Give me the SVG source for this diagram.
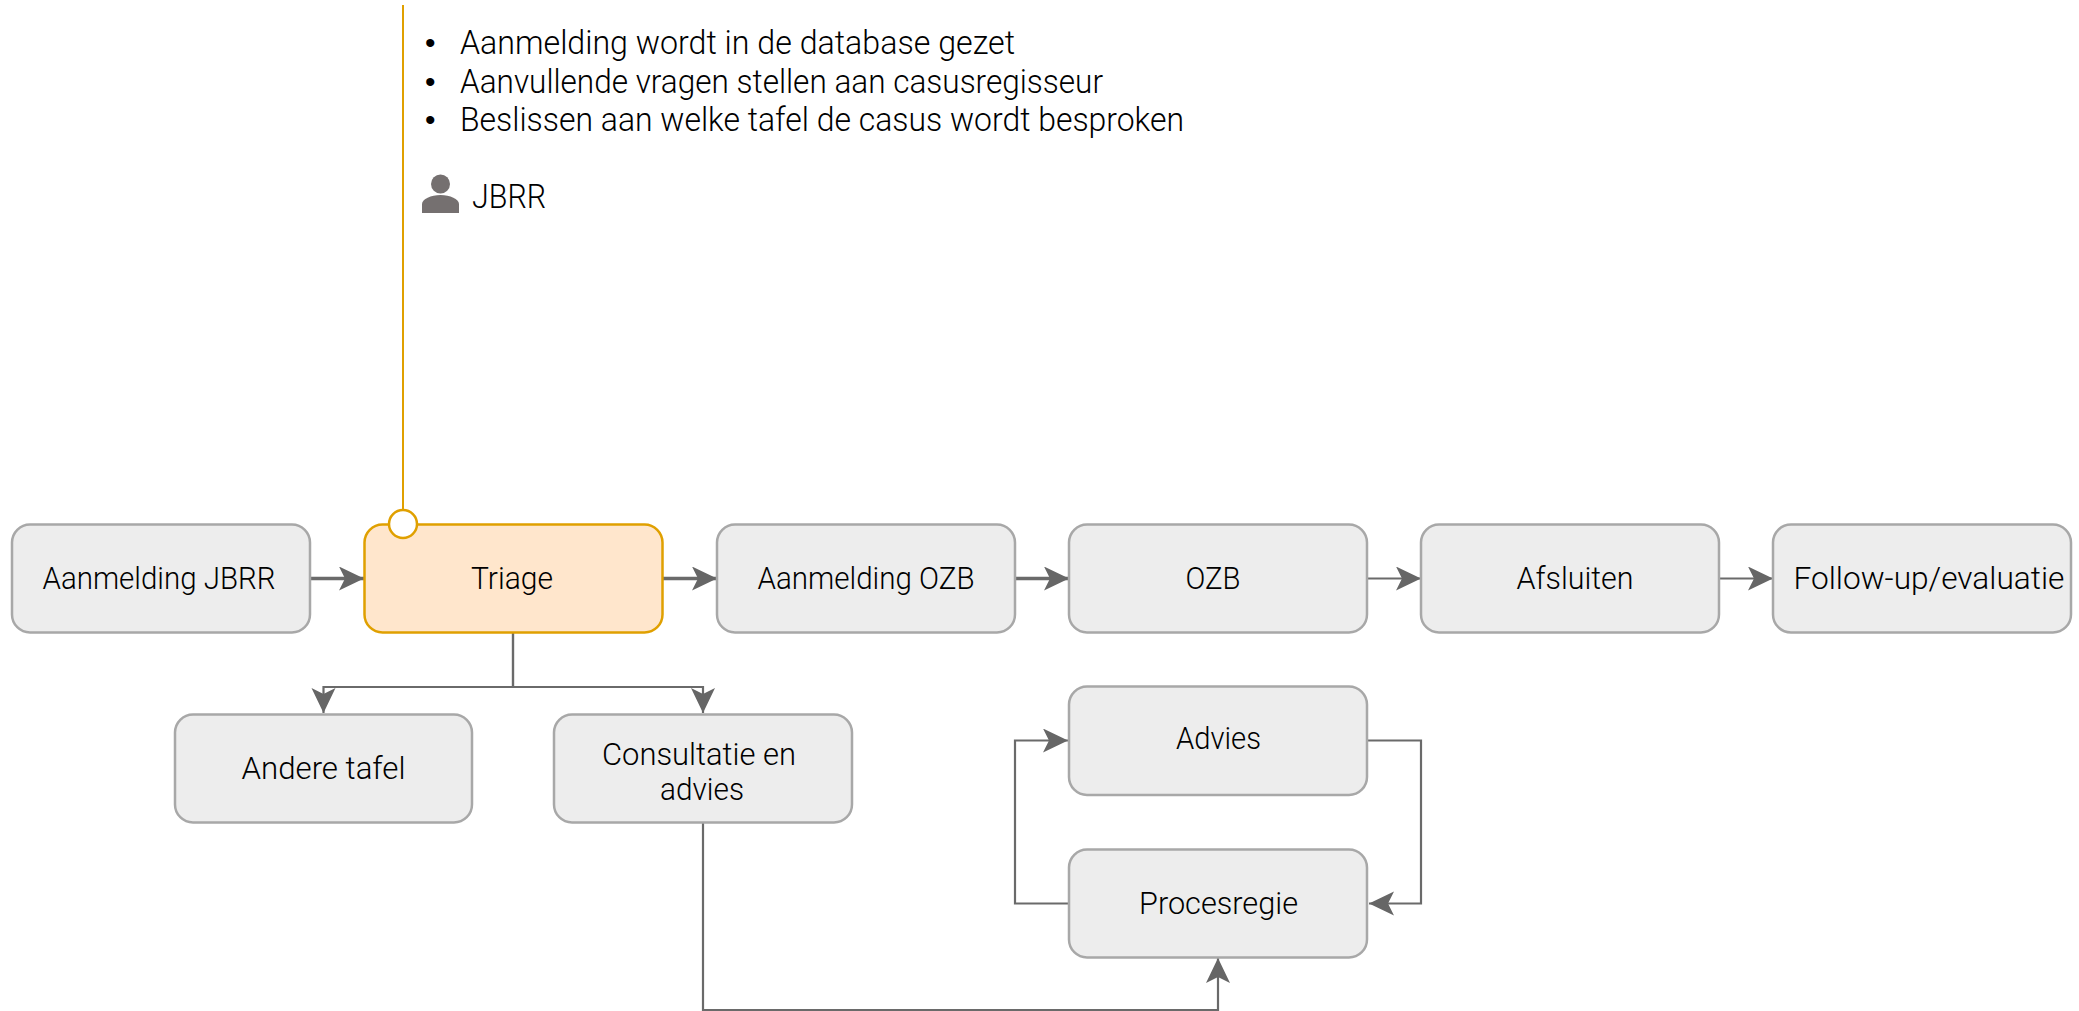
<svg xmlns="http://www.w3.org/2000/svg" width="2079" height="1011" viewBox="0 0 2079 1011">
<style>
.b{fill:#ededed;stroke:#a8a8a8;stroke-width:2.5}
.t{font-family:"Roboto","Liberation Sans",sans-serif;font-weight:300;font-size:31px;fill:#000;text-anchor:middle;font-variant-ligatures:none}
.l{font-family:"Roboto","Liberation Sans",sans-serif;font-weight:300;font-size:32.5px;fill:#000;font-variant-ligatures:none}
.d{font-family:"Liberation Sans",sans-serif;font-size:30px;fill:#000}
.c{fill:none;stroke:#6a6a6a;stroke-width:2.2}
.k{stroke-width:3.5}
</style>
<defs>
<marker id="a" markerUnits="userSpaceOnUse" markerWidth="28" markerHeight="26" refX="25" refY="12" orient="auto"><path d="M0 0L25 12L0 24L6 12Z" fill="#666"/></marker>
</defs>
<g id="connectors">
<path class="c k" d="M311 578.500H364" marker-end="url(#a)"/>
<path class="c k" d="M663 578.500H717" marker-end="url(#a)"/>
<path class="c k" d="M1016 578.500H1069" marker-end="url(#a)"/>
<path class="c" d="M1368 578.500H1421" marker-end="url(#a)"/>
<path class="c" d="M1720 578.500H1773" marker-end="url(#a)"/>
<path class="c" d="M513 632V687H323.500V713" marker-end="url(#a)"/>
<path class="c" d="M513 632V687H703V713" marker-end="url(#a)"/>
<path class="c" d="M703 822V1010H1218V958" marker-end="url(#a)"/>
<path class="c" d="M1069 903.500H1015V740.500H1068" marker-end="url(#a)"/>
<path class="c" d="M1368 740.500H1421V903.500H1369" marker-end="url(#a)"/>
</g>
<g id="aanmelding-jbrr"><rect class="b" x="12" y="524.500" width="298" height="108" rx="18"/><text class="t" x="159" y="589" textLength="233" lengthAdjust="spacingAndGlyphs">Aanmelding JBRR</text></g>
<g id="triage"><rect x="364.500" y="524.500" width="298" height="108" rx="18" fill="#ffe6cc" stroke="#e0a000" stroke-width="2.500"/><text class="t" x="512" y="589" textLength="82" lengthAdjust="spacingAndGlyphs">Triage</text></g>
<g id="aanmelding-ozb"><rect class="b" x="717" y="524.500" width="298" height="108" rx="18"/><text class="t" x="866" y="589" textLength="217" lengthAdjust="spacingAndGlyphs">Aanmelding OZB</text></g>
<g id="ozb"><rect class="b" x="1069" y="524.500" width="298" height="108" rx="18"/><text class="t" x="1213" y="589" textLength="55" lengthAdjust="spacingAndGlyphs">OZB</text></g>
<g id="afsluiten"><rect class="b" x="1421" y="524.500" width="298" height="108" rx="18"/><text class="t" x="1575" y="589" textLength="117" lengthAdjust="spacingAndGlyphs">Afsluiten</text></g>
<g id="follow-up"><rect class="b" x="1773" y="524.500" width="298" height="108" rx="18"/><text class="t" x="1929" y="589" textLength="271" lengthAdjust="spacingAndGlyphs">Follow-up/evaluatie</text></g>
<g id="andere-tafel"><rect class="b" x="175" y="714.500" width="297" height="108" rx="18"/><text class="t" x="323.500" y="779" textLength="164" lengthAdjust="spacingAndGlyphs">Andere tafel</text></g>
<g id="consultatie"><rect class="b" x="554" y="714.500" width="298" height="108" rx="18"/><text class="t" x="699" y="765" textLength="194" lengthAdjust="spacingAndGlyphs">Consultatie en</text><text class="t" x="702" y="800" textLength="84" lengthAdjust="spacingAndGlyphs">advies</text></g>
<g id="advies"><rect class="b" x="1069" y="686.500" width="298" height="108.500" rx="18"/><text class="t" x="1218.500" y="749" textLength="85" lengthAdjust="spacingAndGlyphs">Advies</text></g>
<g id="procesregie"><rect class="b" x="1069" y="849.500" width="298" height="108" rx="18"/><text class="t" x="1218.500" y="914" textLength="159" lengthAdjust="spacingAndGlyphs">Procesregie</text></g>
<g id="annotation">
<path d="M403 5V510" fill="none" stroke="#e0a000" stroke-width="2"/>
<circle cx="403" cy="524" r="14" fill="#fff" stroke="#e0a000" stroke-width="2.500"/>
<text class="d" x="425" y="53">•</text><text class="l" x="460" y="54" textLength="555" lengthAdjust="spacingAndGlyphs">Aanmelding wordt in de database gezet</text>
<text class="d" x="425" y="92">•</text><text class="l" x="460" y="93" textLength="643" lengthAdjust="spacingAndGlyphs">Aanvullende vragen stellen aan casusregisseur</text>
<text class="d" x="425" y="130">•</text><text class="l" x="460" y="131" textLength="724" lengthAdjust="spacingAndGlyphs">Beslissen aan welke tafel de casus wordt besproken</text>
<circle cx="440.500" cy="184" r="9.500" fill="#757070"/>
<path d="M422 213V204C422 199 431 195 440.500 195C450 195 459 199 459 204V213Z" fill="#757070"/>
<text class="l" x="472" y="208" textLength="74" lengthAdjust="spacingAndGlyphs">JBRR</text>
</g>
</svg>
